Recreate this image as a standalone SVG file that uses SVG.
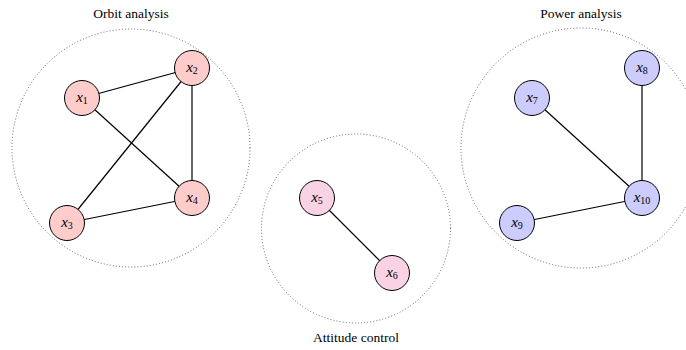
<svg xmlns="http://www.w3.org/2000/svg" width="686" height="350" viewBox="0 0 686 350">
  <style>
    .cluster { fill: none; stroke: #444; stroke-width: 0.9; stroke-dasharray: 0.1 3; stroke-linecap: round; }
    .node circle { stroke: #000; stroke-width: 1; }
    .orbit circle { fill: #ffcccc; }
    .attitude circle { fill: #f9d3e4; }
    .power circle { fill: #ccccff; }
    .lbl { font-family: "Liberation Serif", "DejaVu Serif", serif; font-style: italic; font-size: 15px; text-anchor: middle; dominant-baseline: central; }
    .lbl tspan.sub { font-style: normal; font-size: 10px; }
    .title { font-family: "Liberation Serif", serif; font-size: 13.5px; text-anchor: middle; }
    .edges line { stroke: #000; stroke-width: 1.2; }
  </style>

  <!-- group outlines -->
  <circle class="cluster" cx="131" cy="148" r="119"/>
  <circle class="cluster" cx="356" cy="228.5" r="94.5"/>
  <circle class="cluster" cx="581" cy="148" r="120"/>

  <!-- group titles -->
  <text class="title" x="131" y="18">Orbit analysis</text>
  <text class="title" x="356" y="342">Attitude control</text>
  <text class="title" x="581" y="18">Power analysis</text>

  <!-- connectors -->
  <g class="edges">
    <line x1="82" y1="98" x2="192" y2="68"/>
    <line x1="82" y1="98" x2="192" y2="198"/>
    <line x1="192" y1="68" x2="67" y2="223"/>
    <line x1="192" y1="68" x2="192" y2="198"/>
    <line x1="67" y1="223" x2="192" y2="198"/>
    <line x1="317" y1="198" x2="392" y2="273"/>
    <line x1="532" y1="98" x2="642" y2="198"/>
    <line x1="642" y1="68" x2="642" y2="198"/>
    <line x1="517" y1="223" x2="642" y2="198"/>
  </g>

  <!-- nodes -->
  <g id="x1" class="node orbit"><circle cx="82" cy="98" r="17.5"/><text class="lbl" x="82" y="97">x<tspan class="sub" dy="3">1</tspan></text></g>
  <g id="x2" class="node orbit"><circle cx="192" cy="68" r="17.5"/><text class="lbl" x="192" y="67">x<tspan class="sub" dy="3">2</tspan></text></g>
  <g id="x3" class="node orbit"><circle cx="67" cy="223" r="17.5"/><text class="lbl" x="67" y="222">x<tspan class="sub" dy="3">3</tspan></text></g>
  <g id="x4" class="node orbit"><circle cx="192" cy="198" r="17.5"/><text class="lbl" x="192" y="197">x<tspan class="sub" dy="3">4</tspan></text></g>
  <g id="x5" class="node attitude"><circle cx="317" cy="198" r="17.5"/><text class="lbl" x="317" y="197">x<tspan class="sub" dy="3">5</tspan></text></g>
  <g id="x6" class="node attitude"><circle cx="392" cy="273" r="17.5"/><text class="lbl" x="392" y="272">x<tspan class="sub" dy="3">6</tspan></text></g>
  <g id="x7" class="node power"><circle cx="532" cy="98" r="17.5"/><text class="lbl" x="532" y="97">x<tspan class="sub" dy="3">7</tspan></text></g>
  <g id="x8" class="node power"><circle cx="642" cy="68" r="17.5"/><text class="lbl" x="642" y="67">x<tspan class="sub" dy="3">8</tspan></text></g>
  <g id="x9" class="node power"><circle cx="517" cy="223" r="17.5"/><text class="lbl" x="517" y="222">x<tspan class="sub" dy="3">9</tspan></text></g>
  <g id="x10" class="node power"><circle cx="642" cy="198" r="17.5"/><text class="lbl" x="642" y="197">x<tspan class="sub" dy="3">10</tspan></text></g>
</svg>
